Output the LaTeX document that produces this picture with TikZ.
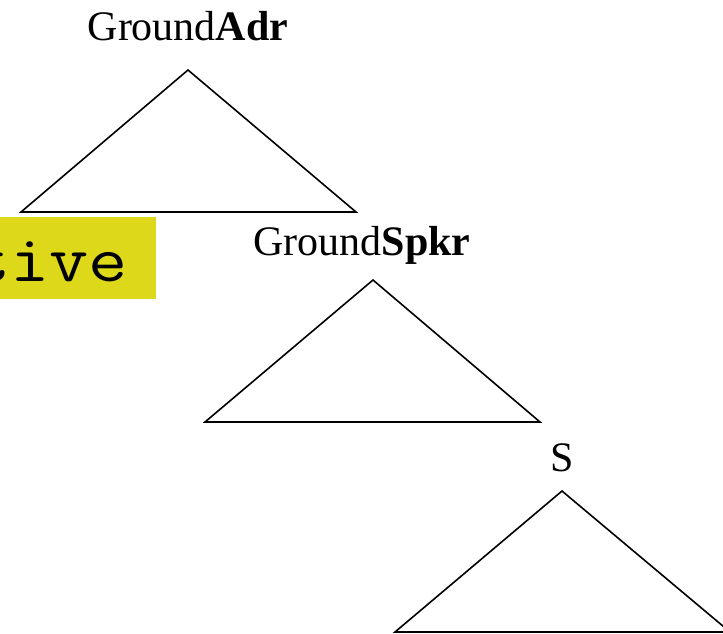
\documentclass[tikz,border=0pt]{standalone}
\usepackage{fontspec}
\setmainfont{Liberation Serif}
\definecolor{marker}{RGB}{221,216,26}
\begin{document}
\begin{tikzpicture}[x=1pt,y=-1pt,
  treelabel/.style={inner sep=0pt, anchor=base, font=\fontsize{42}{50}\selectfont},
  codeword/.style={inner sep=0pt, anchor=base west, font=\ttfamily\fontsize{76}{80}\selectfont},
  tri/.style={draw=black, line width=1.6pt, line join=miter}]
\useasboundingbox (0,0) rectangle (723,633);
\begin{scope}
  \clip (0,0) rectangle (723,633);
  % highlighted word running off the left edge
  \fill[marker] (-10,217) rectangle (156,299);
  \node[codeword] (word) at (-29,281) {\scalebox{1}[0.87]{tive}};

  % tree labels
  \node[treelabel] (adr)  at (188,40)  {Ground\textbf{Adr}};
  \node[treelabel] (spkr) at (362,255) {Ground\textbf{Spkr}};
  \node[treelabel] (s)    at (562,471) {S};

  % triangle corners
  \coordinate (a1) at (188,70);  \coordinate (l1) at (21,212);  \coordinate (r1) at (356,212);
  \coordinate (a2) at (373,280); \coordinate (l2) at (205,422); \coordinate (r2) at (540,422);
  \coordinate (a3) at (562,491); \coordinate (l3) at (395,632); \coordinate (r3) at (730,632);

  \draw[tri] (a1) -- (r1) -- (l1) -- cycle;
  \draw[tri] (a2) -- (r2) -- (l2) -- cycle;
  \draw[tri] (a3) -- (r3) -- (l3) -- cycle;
\end{scope}
\end{tikzpicture}
\end{document}
